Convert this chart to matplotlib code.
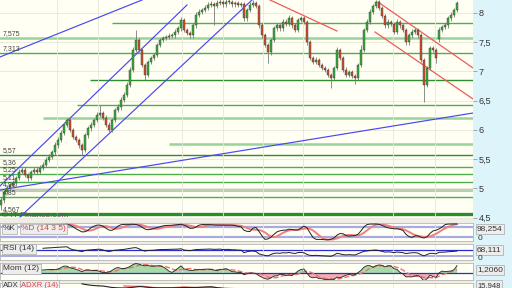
import numpy as np
import matplotlib
matplotlib.use("Agg")
import matplotlib.pyplot as plt
from matplotlib.patches import Rectangle

plt.rcParams['font.family'] = ['Liberation Sans', 'DejaVu Sans']

# ---------------- data ----------------
opens = [4.72, 4.80, 4.94, 5.01, 5.06, 5.09, 5.18, 5.28, 5.32, 5.23,
         5.18, 5.28, 5.32, 5.28, 5.35, 5.40, 5.49, 5.54, 5.62, 5.74,
         5.83, 5.95, 6.09, 6.17, 6.00, 5.88, 5.83, 5.74, 5.66, 5.91,
         6.03, 6.09, 6.17, 6.26, 6.29, 6.21, 6.09, 6.00, 6.17, 6.34,
         6.39, 6.51, 6.60, 6.77, 7.03, 7.37, 7.54, 7.37, 7.11, 6.94,
         7.16, 7.23, 7.28, 7.45, 7.54, 7.57, 7.59, 7.61, 7.62, 7.68,
         7.74, 7.88, 7.71, 7.66, 7.62, 7.79, 7.97, 8.02, 8.05, 8.09,
         8.14, 8.15, 8.12, 8.17, 8.19, 8.15, 8.19, 8.19, 8.15, 8.17,
         8.14, 8.15, 7.91, 8.05, 8.14, 8.17, 8.12, 7.79, 7.62, 7.45,
         7.33, 7.54, 7.74, 7.79, 7.74, 7.85, 7.81, 7.91, 7.79, 7.71,
         7.88, 7.91, 7.85, 7.50, 7.23, 7.16, 7.20, 7.11, 7.06, 7.03,
         6.94, 6.89, 7.06, 7.37, 7.23, 7.03, 6.94, 6.99, 6.92, 6.89,
         7.11, 7.37, 7.71, 7.85, 8.02, 8.12, 8.19, 8.09, 7.95, 7.79,
         7.85, 7.81, 7.68, 7.85, 7.79, 7.71, 7.50, 7.62, 7.68, 7.71,
         7.62, 7.20, 6.77, 7.06, 7.40, 7.37, 7.55, 7.71, 7.76, 7.79,
         7.91, 7.97, 8.05]
closes = [4.80, 4.94, 5.01, 5.06, 5.09, 5.18, 5.28, 5.32, 5.23, 5.18,
          5.28, 5.32, 5.28, 5.35, 5.40, 5.49, 5.54, 5.62, 5.74, 5.83,
          5.95, 6.09, 6.17, 6.00, 5.88, 5.83, 5.74, 5.66, 5.91, 6.03,
          6.09, 6.17, 6.26, 6.29, 6.21, 6.09, 6.00, 6.17, 6.34, 6.39,
          6.51, 6.60, 6.77, 7.03, 7.37, 7.54, 7.37, 7.11, 6.94, 7.16,
          7.23, 7.28, 7.45, 7.54, 7.57, 7.59, 7.61, 7.62, 7.68, 7.74,
          7.88, 7.71, 7.66, 7.62, 7.79, 7.97, 8.02, 8.05, 8.09, 8.14,
          8.15, 8.12, 8.17, 8.19, 8.15, 8.19, 8.19, 8.15, 8.17, 8.14,
          8.15, 7.91, 8.05, 8.14, 8.17, 8.12, 7.79, 7.62, 7.45, 7.33,
          7.54, 7.74, 7.79, 7.74, 7.85, 7.81, 7.91, 7.79, 7.71, 7.88,
          7.91, 7.85, 7.50, 7.23, 7.16, 7.20, 7.11, 7.06, 7.03, 6.94,
          6.89, 7.06, 7.37, 7.23, 7.03, 6.94, 6.99, 6.92, 6.89, 7.11,
          7.37, 7.71, 7.85, 8.02, 8.12, 8.19, 8.09, 7.95, 7.79, 7.85,
          7.81, 7.68, 7.85, 7.79, 7.71, 7.50, 7.62, 7.68, 7.71, 7.62,
          7.20, 6.77, 7.06, 7.40, 7.37, 7.23, 7.71, 7.76, 7.79, 7.91,
          7.97, 8.05, 8.17]
highs = [4.85, 4.98, 5.06, 5.10, 5.14, 5.22, 5.33, 5.36, 5.36, 5.27,
         5.32, 5.37, 5.36, 5.40, 5.45, 5.53, 5.59, 5.66, 5.79, 5.88,
         6.00, 6.13, 6.21, 6.20, 6.04, 5.92, 5.87, 5.78, 5.95, 6.07,
         6.13, 6.21, 6.30, 6.43, 6.33, 6.25, 6.13, 6.21, 6.38, 6.44,
         6.56, 6.65, 6.82, 7.08, 7.42, 7.71, 7.58, 7.40, 7.14, 7.20,
         7.27, 7.32, 7.49, 7.58, 7.61, 7.63, 7.65, 7.66, 7.72, 7.78,
         7.93, 7.91, 7.75, 7.70, 7.83, 8.01, 8.06, 8.09, 8.13, 8.18,
         8.20, 8.19, 8.22, 8.24, 8.23, 8.24, 8.24, 8.22, 8.21, 8.20,
         8.19, 8.18, 8.09, 8.18, 8.22, 8.21, 8.15, 7.83, 7.66, 7.49,
         7.58, 7.78, 7.83, 7.82, 7.89, 7.89, 7.96, 7.94, 7.83, 7.92,
         7.95, 7.95, 7.88, 7.54, 7.27, 7.24, 7.23, 7.14, 7.10, 7.06,
         6.98, 7.10, 7.41, 7.40, 7.26, 7.07, 7.03, 7.02, 6.95, 7.15,
         7.45, 7.75, 7.89, 8.06, 8.16, 8.23, 8.22, 8.12, 7.98, 7.89,
         7.88, 7.84, 7.89, 7.88, 7.82, 7.74, 7.66, 7.72, 7.75, 7.74,
         7.65, 7.23, 7.10, 7.44, 7.43, 7.40, 7.76, 7.80, 7.83, 7.95,
         8.01, 8.09, 8.21]
lows = [4.64, 4.76, 4.90, 4.97, 5.02, 5.05, 5.14, 5.24, 5.19, 5.12,
        5.14, 5.24, 5.24, 5.24, 5.31, 5.36, 5.45, 5.50, 5.58, 5.70,
        5.79, 5.91, 6.05, 5.96, 5.84, 5.79, 5.70, 5.58, 5.62, 5.87,
        5.99, 6.05, 6.13, 6.22, 6.17, 6.05, 5.96, 5.96, 6.13, 6.30,
        6.35, 6.47, 6.56, 6.73, 6.99, 7.33, 7.33, 7.07, 6.85, 6.90,
        7.12, 7.19, 7.24, 7.41, 7.50, 7.53, 7.55, 7.57, 7.58, 7.64,
        7.70, 7.67, 7.62, 7.58, 7.58, 7.75, 7.93, 7.98, 8.01, 8.05,
        8.10, 7.80, 8.08, 8.13, 8.11, 8.11, 8.15, 8.11, 8.11, 8.10,
        8.10, 7.87, 7.87, 8.01, 8.10, 8.08, 7.75, 7.58, 7.41, 7.14,
        7.29, 7.50, 7.70, 7.70, 7.70, 7.77, 7.77, 7.75, 7.67, 7.67,
        7.84, 7.81, 7.46, 7.19, 7.12, 7.12, 7.07, 7.02, 6.99, 6.90,
        6.72, 6.85, 7.02, 7.19, 6.99, 6.90, 6.90, 6.88, 6.78, 6.85,
        7.07, 7.33, 7.67, 7.81, 7.98, 8.08, 8.05, 7.91, 7.75, 7.75,
        7.77, 7.64, 7.64, 7.75, 7.67, 7.46, 7.46, 7.58, 7.64, 7.58,
        7.16, 6.48, 6.73, 7.02, 7.33, 7.15, 7.51, 7.67, 7.72, 7.75,
        7.87, 7.93, 8.01]

price_ticks = [4.5, 5, 5.5, 6, 6.5, 7, 7.5, 8]
price_tick_labels = ["4,5", "5", "5,5", "6", "6,5", "7", "7,5", "8"]

# horizontal support / resistance levels (value, first candle index, label)
levels = [7.83, 7.575, 7.313, 6.85, 6.43, 6.20, 5.76, 5.57, 5.36, 5.25, 5.11, 4.98, 4.855, 4.567]
level_start = [37, -1, -1, 29.7, 25.3, 14, 56, -1, -1, -1, -1, -1, -1, -1]
level_labels = ["", "7,575", "7,313", "", "", "", "", "5,57", "5,36", "5,25", "5,11", "4,98", "4,85", "4,567"]

# trend lines: (x0, y0, x1, y1) in candle index / price
blue_lines = [(-0.33, 7.248, 47.0, 8.222),
              (-0.33, 5.043, 62.0, 8.137),
              (6.33, 4.513, 83.67, 8.222),
              (-0.33, 4.974, 157.33, 6.290)]
red_lines = [(89.67, 8.222, 112.0, 7.692),
             (125.67, 8.188, 157.33, 7.060),
             (124.67, 7.675, 157.33, 6.530)]

vgrid = [18.7, 32.3, 60.3, 74.0, 87.3, 100.7, 130.7, 144.7]

# ---------------- styles ----------------
level_kind = ["mid", "light", "mid", "dark", "mid", "light", "light",
              "dark", "mid", "mid", "mid", "grey", "mid", "thick"]
kind_style = {"mid": ("#4DAE4D", 1.0), "dark": ("#2E8E2E", 1.0),
              "light": ("#9BD39B", 1.8), "grey": ("#BCCDB4", 2.2),
              "thick": ("#2C8C2C", 2.4)}

W, H = 512, 288
fig = plt.figure(figsize=(W / 100, H / 100), dpi=100)
fig.patch.set_facecolor("#EEEEE6")
fig.add_artist(Rectangle((473 / W, 0), 1, 1, transform=fig.transFigure,
                         facecolor="#DDF5FA", edgecolor="none", zorder=0))


def box(px0, py0, px1, py1):
    return [px0 / W, 1 - py1 / H, (px1 - px0) / W, (py1 - py0) / H]


o = np.array(opens); h = np.array(highs); l = np.array(lows); c = np.array(closes)
N = len(c)
idx = np.arange(N)
XL = (-0.33, 157.33)

# ---------------- main price panel ----------------
ax = fig.add_axes(box(0, 0, 473, 219))
ax.set_facecolor("#FFFFF3")
ax.set_xlim(*XL)
ax.set_ylim(4.478, 8.222)
for s in ax.spines.values():
    s.set_visible(False)
ax.yaxis.tick_right()
ax.set_yticks(price_ticks)
ax.set_yticklabels(price_tick_labels)
ax.tick_params(axis="y", length=3, width=0.6, color="#999999", pad=1,
               labelsize=6.5, labelcolor="#333333")
ax.set_xticks(vgrid)
ax.set_xticklabels([])
ax.tick_params(axis="x", length=0)
ax.grid(True, color="#E6E6DC", lw=0.6, zorder=0)

for v, s0, lab, k in zip(levels, level_start, level_labels, level_kind):
    col, lw = kind_style[k]
    ax.plot([s0, XL[1]], [v, v], color=col, lw=lw, zorder=1, solid_capstyle="butt")
    if lab:
        ax.text(0.5, v + 0.02, lab, fontsize=5, color="#444444", va="bottom", ha="left", zorder=6)

for (x0, y0, x1, y1) in blue_lines:
    ax.plot([x0, x1], [y0, y1], color="#4848F2", lw=0.85, zorder=2)
for (x0, y0, x1, y1) in red_lines:
    ax.plot([x0, x1], [y0, y1], color="#F05A5A", lw=0.9, zorder=2)

up = c >= o
ax.vlines(idx, l, h, color="#7A7A7A", lw=0.6, zorder=3)
body_bottom = np.minimum(o, c)
body_h = np.maximum(np.abs(c - o), 0.012)
ax.bar(idx, body_h, bottom=body_bottom, width=0.74,
       color=np.where(up, "#35B035", "#D24F28"), edgecolor="#3A3A3A", lw=0.3, zorder=4)

ax.text(0.3, 4.545, "\u00a9 IT-Finance.com", fontsize=6, color="#555555",
        va="center", ha="left", zorder=8, clip_on=False)

# ---------------- indicators ----------------
def rolling(a, n, fn):
    out = np.full(len(a), np.nan)
    for i in range(n - 1, len(a)):
        out[i] = fn(a[i - n + 1:i + 1])
    return out


ll = rolling(l, 14, np.min)
hh = rolling(h, 14, np.max)
fastk = 100 * (c - ll) / (hh - ll)
slowk = rolling(fastk, 3, np.mean)
pctd = rolling(slowk, 5, np.mean)

d = np.diff(c, prepend=np.nan)
gain = np.where(d > 0, d, 0.0)
loss = np.where(d < 0, -d, 0.0)
rsi = np.full(N, np.nan)
ag = gain[1:15].mean(); al = loss[1:15].mean()
rsi[14] = 100 - 100 / (1 + ag / al)
for i in range(15, N):
    ag = (ag * 13 + gain[i]) / 14
    al = (al * 13 + loss[i]) / 14
    rsi[i] = 100 - 100 / (1 + ag / al) if al > 0 else 100

mom = np.full(N, np.nan)
mom[12:] = c[12:] - c[:-12]
mom_sig = rolling(mom, 5, np.mean)

upm = h[1:] - h[:-1]
dnm = l[:-1] - l[1:]
pdm = np.where((upm > dnm) & (upm > 0), upm, 0.0)
mdm = np.where((dnm > upm) & (dnm > 0), dnm, 0.0)
tr = np.maximum(h[1:] - l[1:], np.maximum(np.abs(h[1:] - c[:-1]), np.abs(l[1:] - c[:-1])))


def wilder(a, n):
    out = np.full(len(a), np.nan)
    out[n - 1] = a[:n].sum()
    for i in range(n, len(a)):
        out[i] = out[i - 1] - out[i - 1] / n + a[i]
    return out


atr = wilder(tr, 14)
pdi = 100 * wilder(pdm, 14) / atr
mdi = 100 * wilder(mdm, 14) / atr
dx = 100 * np.abs(pdi - mdi) / (pdi + mdi)
adx_s = np.full(len(dx), np.nan)
adx_s[26] = np.nanmean(dx[13:27])
for i in range(27, len(dx)):
    adx_s[i] = (adx_s[i - 1] * 13 + dx[i]) / 14
adx = np.concatenate([[np.nan], adx_s])
adxr = np.full(N, np.nan)
adxr[14:] = (adx[14:] + adx[:-14]) / 2


def panel(py0, py1):
    a = fig.add_axes(box(0, py0, 473, py1))
    a.set_facecolor("#FFFFF3")
    a.set_xlim(*XL)
    a.set_xticks(vgrid)
    a.set_xticklabels([])
    a.set_yticks([])
    a.tick_params(axis="x", length=0)
    a.grid(True, axis="x", color="#E6E6DC", lw=0.6, zorder=0)
    for s in a.spines.values():
        s.set_color("#B5B5B5"); s.set_linewidth(0.6)
    return a


lbl_box = dict(boxstyle="square,pad=0.18", fc="#EDEDED", ec="#A8A8A8", lw=0.5)

axK = panel(223, 241)
axK.set_ylim(-3, 103)
axK.axhline(80, color="#A9A9E6", lw=1.6, zorder=1)
axK.axhline(20, color="#A9A9E6", lw=1.6, zorder=1)
axK.plot(idx, pctd, color="#F08080", lw=1.4, zorder=2)
axK.plot(idx, slowk, color="#222222", lw=0.7, zorder=3)

axR = panel(244, 260)
axR.set_ylim(3, 110)
axR.axhline(70, color="#2A2AD8", lw=0.9, zorder=1)
axR.axhline(30, color="#A9A9E6", lw=1.4, zorder=1)
axR.plot(idx, rsi, color="#222222", lw=0.7, zorder=3)

axM = panel(263, 280)
mmax = np.nanmax(np.abs(mom)) * 1.05
axM.set_ylim(-0.7 * mmax, mmax)
axM.fill_between(idx, mom, 0, where=mom >= 0, interpolate=True, color="#A8DAA8", lw=0, zorder=1)
axM.fill_between(idx, mom, 0, where=mom < 0, interpolate=True, color="#F2AFAF", lw=0, zorder=1)
axM.axhline(0, color="#2A2AD8", lw=0.9, zorder=2)
axM.plot(idx, mom_sig, color="#F07070", lw=1.0, ls="--", zorder=3)
axM.plot(idx, mom, color="#222222", lw=0.6, zorder=4)

axA = panel(283, 300)
amax = np.nanmax(adx) * 1.05
axA.set_ylim(0, amax)
axA.plot(idx, adxr, color="#F07070", lw=1.0, zorder=2)
axA.plot(idx, adx, color="#222222", lw=0.8, zorder=3)

# panel labels (left)
def ftext(px, py, s, fs=6, **kw):
    return fig.text(px / W, 1 - py / H, s, va="center", ha="left", fontsize=fs, zorder=10, **kw)


ftext(3, 229, "%K", color="#333333", bbox=lbl_box)
ftext(21, 229, "%D (14 3 5)", color="#E04040", bbox=lbl_box)
ftext(3, 249, "RSI (14)", color="#333333", bbox=lbl_box)
ftext(3, 269, "Mom (12)", color="#333333", bbox=lbl_box)
ftext(3, 285.2, "ADX", fs=5.5, color="#333333", bbox=lbl_box)
ftext(21, 285.2, "ADXR (14)", fs=5.5, color="#E04040", bbox=lbl_box)

# right value labels
ftext(477, 229, "98,254", color="#333333", bbox=lbl_box)
ftext(478, 238, "0", color="#333333")
ftext(477, 250, "68,111", color="#333333", bbox=lbl_box)
ftext(478, 258.5, "0", color="#333333")
ftext(477, 270, "1,2060", color="#333333", bbox=lbl_box)
ftext(477, 285.2, "15,948", fs=5.5, color="#333333", bbox=lbl_box)

fig.savefig("out.png", dpi=100, facecolor=fig.get_facecolor())
